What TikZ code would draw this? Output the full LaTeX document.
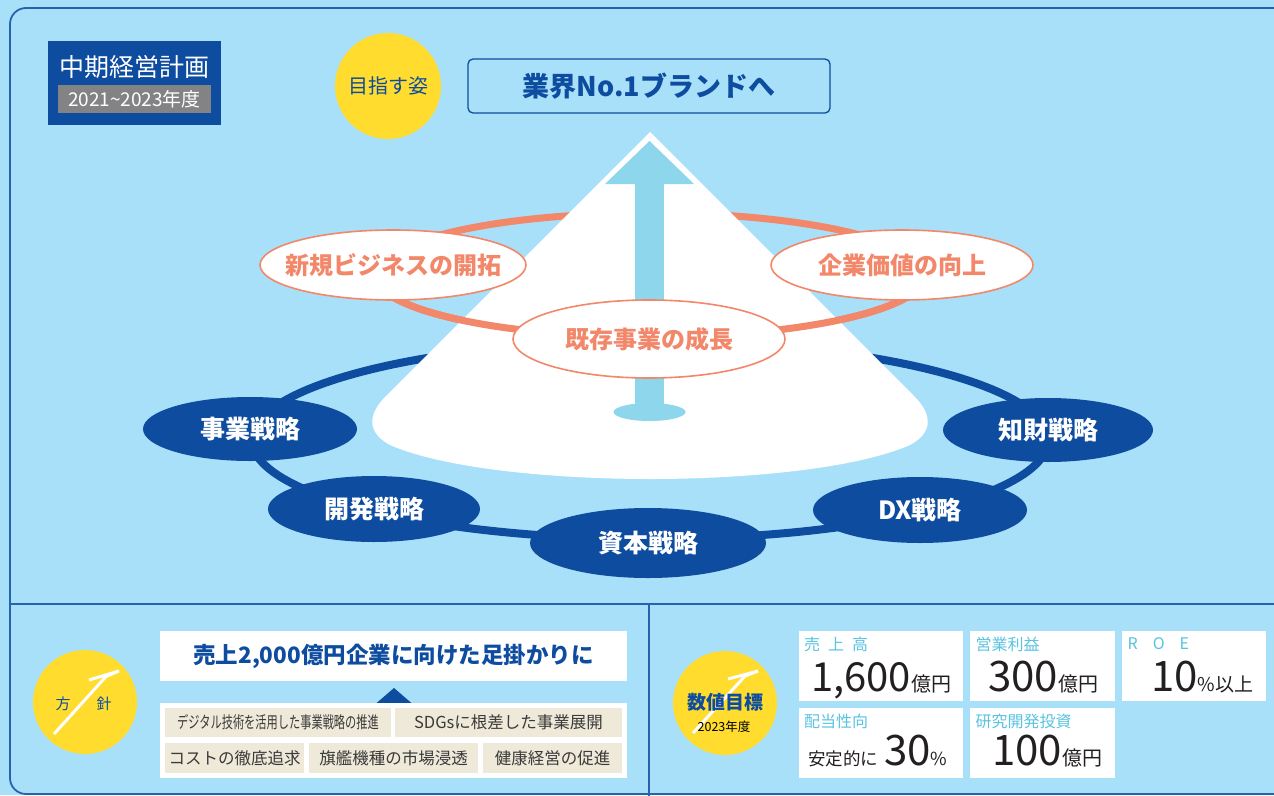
\documentclass[tikz,border=0pt]{standalone}
\usepackage{fontspec}
\usepackage{graphicx}
\setmainfont{Noto Sans CJK JP}
\usetikzlibrary{shapes.geometric}
\definecolor{bg}{HTML}{A8E0FA}
\definecolor{dblue}{HTML}{0D4C9F}
\definecolor{frameblue}{HTML}{2563AE}
\definecolor{orng}{HTML}{F2876A}
\definecolor{lblue}{HTML}{8ED6EB}
\definecolor{yell}{HTML}{FFDC2D}
\definecolor{beige}{HTML}{EEE9D9}
\definecolor{greybox}{HTML}{838386}
\definecolor{txtgray}{HTML}{3A3A3A}
\definecolor{numgray}{HTML}{231F20}
\definecolor{cyanlbl}{HTML}{59C3E1}
\newcommand\fsz[1]{\fontsize{#1}{#1}\selectfont}
\tikzset{
  blueell/.style={ellipse, fill=dblue, text=white, inner sep=0pt, font=\fsz{25}\bfseries},
  orell/.style={ellipse, draw=orng, line width=1.6pt, fill=white, inner sep=0pt},
  ortext/.style={text=orng, inner sep=0pt, font=\fsz{24}\bfseries},
  yellcirc/.style={circle, fill=yell, inner sep=0pt},
  cellbox/.style={fill=beige, inner sep=0pt, text=txtgray, font=\fsz{16.5}},
  card/.style={fill=white, inner sep=0pt, anchor=north west},
  cardlbl/.style={anchor=west, inner sep=0pt, text=cyanlbl, font=\fsz{16}},
  bignum/.style={anchor=base west, inner sep=0pt, text=numgray},
  divider/.style={draw=frameblue, line width=1.8pt},
  whitearrow/.style={draw=white, line width=3pt, line join=miter},
}
\begin{document}
\begin{tikzpicture}[x=1pt,y=-1pt]
\useasboundingbox (0,0) rectangle (1274,795);
\fill[bg] (0,0) rectangle (1274,795);
% frame
\draw[divider, rounded corners=16pt] (1300,8) -- (10,8) -- (10,794) -- (1300,794);
\draw[divider] (10,604) -- (1300,604);
\draw[divider] (649,604) -- (649,800);

% rings (back parts)
\draw[dblue, line width=8pt] (650,440) ellipse [x radius=398, y radius=99];
\draw[orng, line width=7pt] (650,275) ellipse [x radius=275, y radius=62];

% cone
\fill[white] (650,132) -- (386,396) .. controls (368,414) and (366,432) .. (390,445)
  .. controls (445,469) and (555,479) .. (650,479)
  .. controls (745,479) and (855,469) .. (910,445)
  .. controls (934,432) and (932,414) .. (914,396) -- cycle;

% arrow
\fill[lblue] (649.5,412) ellipse [x radius=36, y radius=9];
\fill[lblue] (635,412) rectangle (664,183);
\fill[lblue] (649.5,141) -- (605,184) -- (694,184) -- cycle;

% orange ring front part
\draw[orng, line width=7pt] (925,275) arc [start angle=0, end angle=180, x radius=275, y radius=62];

% orange ellipses
\node[orell, minimum width=266pt, minimum height=70pt] (newbiz) at (393,265) {};
\node[ortext] (newbiz-t) at (newbiz.center) {新規ビジネスの開拓};
\node[orell, minimum width=262pt, minimum height=70pt] (value) at (902,265) {};
\node[ortext] (value-t) at (value.center) {企業価値の向上};
\node[orell, minimum width=272pt, minimum height=78pt] (exist) at (649,339) {};
\node[ortext] (exist-t) at (exist.center) {既存事業の成長};

% blue ellipses
\node[blueell, minimum width=214pt, minimum height=64pt] (bizstr) at (250,429) {事業戦略};
\node[blueell, minimum width=212pt, minimum height=66pt] (devstr) at (374,509) {開発戦略};
\node[blueell, minimum width=236pt, minimum height=70pt] (capstr) at (648,543) {資本戦略};
\node[blueell, minimum width=214pt, minimum height=66pt] (dxstr) at (920,510) {DX戦略};
\node[blueell, minimum width=210pt, minimum height=64pt] (ipstr) at (1048,430) {知財戦略};

% top-left plan box
\node[fill=dblue, anchor=north west, minimum width=173pt, minimum height=84pt, inner sep=0pt] (plan) at (48,41) {};
\node[text=white, inner sep=0pt, font=\fsz{25}] (plantitle) at (134.5,67) {中期経営計画};
\node[fill=greybox, text=white, minimum width=153pt, minimum height=28pt, inner sep=0pt, font=\fsz{19}] (years) at (134.5,99) {2021\textasciitilde2023年度};

% goal
\node[yellcirc, minimum size=106pt, text=dblue, font=\fsz{20}] (aim) at (388,86) {目指す姿};
\node[draw=dblue, line width=1.3pt, rounded corners=5pt, minimum width=362pt, minimum height=54pt, inner sep=0pt, text=dblue, font=\fsz{27}\bfseries] (goal) at (649,86) {業界No.1ブランドへ};

% policy section
\node[yellcirc, minimum size=104pt] (policy) at (85,702) {};
\node[text=dblue, inner sep=0pt, font=\fsz{15}] (hou) at (63,704) {方};
\node[text=dblue, inner sep=0pt, font=\fsz{15}] (shin) at (104,704) {針};
\draw[whitearrow] (54,734) -- (106,676.5) -- (119,671) -- (89,680);

\node[fill=white, minimum width=467pt, minimum height=50pt, inner sep=0pt, text=dblue, font=\fsz{22.5}\bfseries] (slogan) at (393.5,656) {売上2,000億円企業に向けた足掛かりに};
\fill[dblue] (394,688) -- (376,703.5) -- (412,703.5) -- cycle;
\node[fill=white, minimum width=467pt, minimum height=75pt, inner sep=0pt] (cellpanel) at (393.5,740.5) {};
\node[cellbox, minimum width=226pt, minimum height=29pt] (c1) at (278,722.5) {\scalebox{0.68}[1]{デジタル技術を活用した事業戦略の推進}};
\node[cellbox, minimum width=227pt, minimum height=29pt] (c2) at (508.5,722.5) {SDGsに根差した事業展開};
\node[cellbox, minimum width=139pt, minimum height=30pt] (c3) at (234.5,758) {コストの徹底追求};
\node[cellbox, minimum width=169pt, minimum height=30pt] (c4) at (393.5,758) {旗艦機種の市場浸透};
\node[cellbox, minimum width=139pt, minimum height=30pt] (c5) at (552.5,758) {健康経営の促進};

% numeric targets
\node[yellcirc, minimum size=104pt] (numgoal) at (725,703) {};
\draw[whitearrow] (693,733) -- (745,676) -- (758,671) -- (728,679);
\node[text=dblue, inner sep=0pt, font=\fsz{19}\bfseries] (numtitle) at (725,702) {数値目標};
\node[text=black, inner sep=0pt, font=\fsz{12.5}] (numyear) at (724,727) {2023年度};

\node[card, minimum width=164pt, minimum height=70pt] (cardA) at (799,631) {};
\node[card, minimum width=145pt, minimum height=70pt] (cardB) at (970,631) {};
\node[card, minimum width=144pt, minimum height=70pt] (cardC) at (1122,631) {};
\node[card, minimum width=164pt, minimum height=70pt] (cardD) at (799,708) {};
\node[card, minimum width=145pt, minimum height=70pt] (cardE) at (970,708) {};

\node[cardlbl] (lblA) at (804,644) {売\hspace{8pt}上\hspace{8pt}高};
\node[cardlbl] (lblB) at (975.5,644) {営業利益};
\node[cardlbl] (lblC) at (1127.5,644) {R\hspace{15pt}O\hspace{15pt}E};
\node[cardlbl] (lblD) at (804,721) {配当性向};
\node[cardlbl] (lblE) at (975.5,721) {研究開発投資};

\node[bignum] (numA) at (811,691) {\fsz{40}1,600\fsz{20}億円};
\node[bignum] (numB) at (988,691) {\fsz{42}300\fsz{20}億円};
\node[bignum] (numC) at (1151,691) {\fsz{42}10\fsz{19}\%以上};
\node[bignum] (numD) at (808,765) {\fsz{17.5}安定的に\hspace{6pt}\fsz{42}30\fsz{18}\%};
\node[bignum] (numE) at (992,765) {\fsz{42}100\fsz{20}億円};
\end{tikzpicture}
\end{document}
